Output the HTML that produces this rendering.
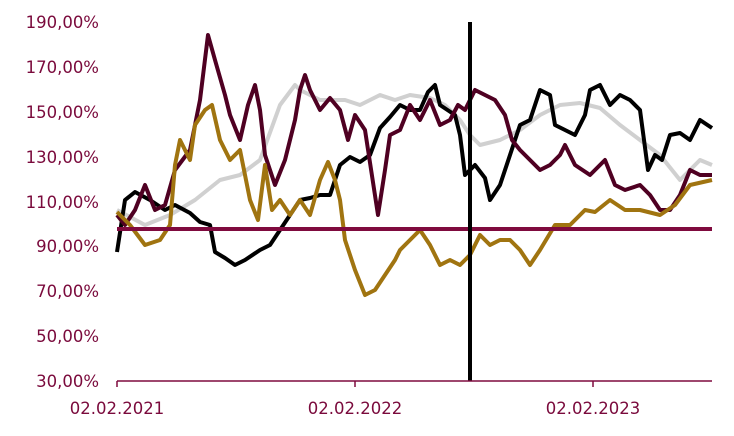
<!DOCTYPE html>
<html><head><style>body{margin:0;background:#fff}</style></head><body>
<svg width="734" height="431" xmlns="http://www.w3.org/2000/svg" font-family="DejaVu Sans, Liberation Sans, sans-serif" font-size="16.5" fill="#7a0a3c">
<g text-anchor="end">
<text x="99" y="28">190,00%</text><text x="99" y="73">170,00%</text><text x="99" y="118">150,00%</text><text x="99" y="163">130,00%</text><text x="99" y="208">110,00%</text><text x="99" y="252">90,00%</text><text x="99" y="297">70,00%</text><text x="99" y="342">50,00%</text><text x="99" y="387">30,00%</text>
</g>
<g text-anchor="middle"><text x="117" y="414">02.02.2021</text><text x="355" y="414">02.02.2022</text><text x="593" y="414">02.02.2023</text></g>
<g fill="none" stroke-width="4" stroke-linejoin="round">
<polyline stroke="#d0d0d0" points="117,210 145,225 170,215 195,200 220,180 240,175 260,160 280,105 295,85 300,90 320,100 345,100 360,105 380,95 395,100 410,95 430,98 445,105 460,120 470,135 480,145 500,140 520,130 540,115 560,105 580,103 600,108 620,125 640,140 660,155 680,180 690,170 700,160 712,165"/>
<polyline stroke="#000" points="117,252 125,200 135,192 150,200 165,210 175,205 190,213 200,222 210,225 215,252 225,258 235,265 245,260 260,250 270,245 280,230 290,215 300,200 310,198 320,195 330,195 340,165 350,157 360,162 370,155 380,128 390,117 400,105 410,110 420,110 428,92 435,85 440,105 455,115 460,135 465,175 475,165 485,178 490,200 500,185 510,155 520,125 530,120 540,90 550,95 555,125 565,130 575,135 585,115 590,90 600,85 610,105 620,95 630,100 640,110 648,170 655,155 662,160 670,135 680,133 690,140 700,120 712,128"/>
<polyline stroke="#4f0022" points="117,215 125,225 135,210 145,185 155,210 165,205 175,170 190,150 200,100 208,35 215,60 225,95 230,115 240,140 248,105 255,85 260,110 265,155 275,185 285,160 295,120 300,90 305,75 310,90 320,110 330,98 340,110 348,140 355,115 365,130 378,215 385,170 390,135 400,130 410,105 420,120 430,100 440,125 450,120 458,105 465,110 475,90 485,95 495,100 505,115 512,140 520,150 530,160 540,170 550,165 560,155 565,145 575,165 590,175 605,160 615,185 625,190 640,185 650,195 660,210 670,210 680,195 690,170 700,175 712,175"/>
<polyline stroke="#a07410" points="117,212 130,225 145,245 160,240 170,225 175,165 180,140 190,160 195,125 205,110 212,105 220,140 230,160 240,150 245,175 250,200 258,220 265,165 272,210 280,200 290,215 300,200 310,215 320,180 328,162 335,180 340,200 345,240 355,270 365,295 375,290 385,275 395,260 400,250 410,240 420,230 430,245 440,265 450,260 460,265 470,255 480,235 490,245 500,240 510,240 520,250 530,265 540,250 555,225 570,225 585,210 595,212 610,200 625,210 640,210 660,215 675,205 690,185 712,180"/>
</g>
<line x1="117" y1="229" x2="712" y2="229" stroke="#7f0a3e" stroke-width="4"/>
<line x1="470" y1="22" x2="470" y2="381" stroke="#000" stroke-width="4"/>
<line x1="117" y1="381" x2="712" y2="381" stroke="#7f0a3e" stroke-width="1.5"/>
<g stroke="#7f0a3e" stroke-width="1.5"><line x1="117" y1="381" x2="117" y2="387"/><line x1="355" y1="381" x2="355" y2="387"/><line x1="593" y1="381" x2="593" y2="387"/></g>
</svg>
</body></html>
